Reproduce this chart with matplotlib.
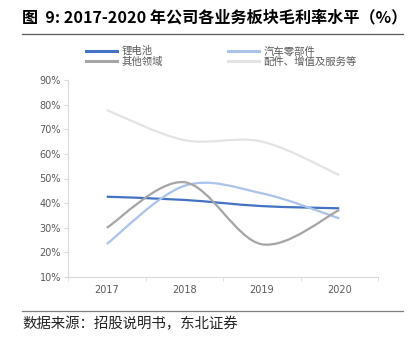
import matplotlib.pyplot as plt
import numpy as np
from matplotlib.path import Path
from matplotlib.patches import PathPatch
from matplotlib.lines import Line2D

plt.rcParams['font.family'] = ['Noto Sans CJK SC', 'DejaVu Sans']

years = ['2017', '2018', '2019', '2020']
lithium = [42.6, 41.3, 38.8, 37.9]
auto_parts = [23.4, 47.0, 44.0, 33.8]
others = [30.0, 48.5, 23.3, 37.2]
accessories = [77.8, 65.6, 65.0, 51.4]

series = [
    ('锂电池', lithium, '#4472C4'),
    ('汽车零部件', auto_parts, '#A9C3EA'),
    ('其他领域', others, '#A5A5A5'),
    ('配件、增值及服务等', accessories, '#E3E3E3'),
]


def smooth_path(xs, ys):
    # Excel-like smoothed line: cubic bezier through the points
    pts = np.column_stack([xs, ys]).astype(float)
    n = len(pts)
    verts = [pts[0]]
    codes = [Path.MOVETO]
    for i in range(n - 1):
        p0 = pts[i - 1] if i > 0 else pts[i]
        p1 = pts[i]
        p2 = pts[i + 1]
        p3 = pts[i + 2] if i + 2 < n else pts[i + 1]
        c1 = p1 + (p2 - p0) / 6
        c2 = p2 - (p3 - p1) / 6
        verts += [c1, c2, p2]
        codes += [Path.CURVE4] * 3
    return Path(verts, codes)


fig = plt.figure(figsize=(4.13, 3.44), dpi=100)
ax = fig.add_axes([68 / 413, 1 - 277 / 344, 310 / 413, 197 / 344])

x = np.arange(len(years))
handles = []
for name, vals, col in series:
    patch = PathPatch(smooth_path(x, vals), facecolor='none', edgecolor=col,
                      lw=1.6, capstyle='butt')
    ax.add_patch(patch)
    handles.append(Line2D([], [], color=col, lw=2.2, label=name))

ax.set_xlim(-0.5, 3.5)
ax.set_ylim(10, 90)
ax.set_yticks(range(10, 91, 10))
ax.set_yticklabels([f'{v}%' for v in range(10, 91, 10)])
ax.set_xticks(x)
ax.set_xticklabels(years)
ax.set_xticks(np.arange(-0.5, 3.6, 1), minor=True)
ax.tick_params(axis='x', which='major', length=0, pad=6)
ax.tick_params(axis='x', which='minor', length=3, color='#D9D9D9')
ax.tick_params(axis='y', length=3, color='#D9D9D9', pad=2)
ax.tick_params(labelsize=7, labelcolor='#595959')
for lab in ax.get_xticklabels() + ax.get_yticklabels():
    lab.set_family('DejaVu Sans')
for s in ['top', 'right']:
    ax.spines[s].set_visible(False)
for s in ['left', 'bottom']:
    ax.spines[s].set_color('#D9D9D9')
    ax.spines[s].set_linewidth(0.8)

# row-wise order like the original legend
order = [0, 2, 1, 3]
fig.legend(handles=[handles[i] for i in order], ncol=2, loc='center left',
           bbox_to_anchor=(81 / 413, 1 - 56.5 / 344), borderpad=0,
           frameon=False, fontsize=7.5, handlelength=3, handletextpad=0.4,
           columnspacing=6.2, labelspacing=0.05, labelcolor='#595959')

fig.text(22 / 413, 1 - 17 / 344, '图  9: 2017-2020 年公司各业务板块毛利率水平（%）',
         fontsize=11.6, fontweight='bold', va='center', ha='left', color='black')
fig.add_artist(Line2D([22 / 413, 403 / 413], [1 - 33.5 / 344] * 2, color='#595959', lw=0.9))
fig.add_artist(Line2D([22 / 413, 403 / 413], [1 - 310.5 / 344] * 2, color='#7F7F7F', lw=0.9))
fig.text(22 / 413, 1 - 324 / 344, '数据来源：招股说明书，东北证券',
         fontsize=10.4, va='center', ha='left', color='#222222')

fig.savefig('out.png', dpi=100)
